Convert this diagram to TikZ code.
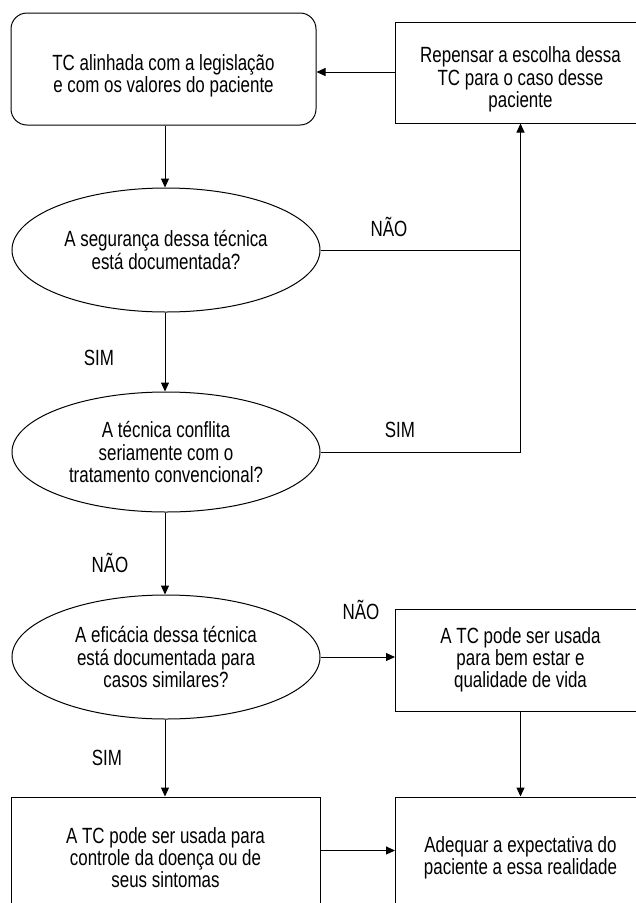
\documentclass[tikz,border=0pt]{standalone}
\usepackage{fontspec}
\setmainfont{Liberation Sans}[FakeStretch=0.77]
\usetikzlibrary{shapes.geometric,arrows.meta}
\newcommand\topstrut{\rule{0pt}{30pt}}
\tikzset{
  txt/.style={font=\fontsize{22}{22.3}\selectfont},
  box/.style={draw, line width=1pt, rectangle, inner sep=0pt, align=center, txt},
  rbox/.style={box, rounded corners=16pt},
  ell/.style={draw, line width=1pt, ellipse, inner sep=0pt, align=center, txt, minimum width=308pt},
  lbl/.style={txt, inner sep=0pt},
  arr/.style={line width=1pt, -{Triangle[length=9pt,width=8pt]}},
  ln/.style={line width=1pt}
}
\begin{document}
\begin{tikzpicture}[x=1pt,y=-1pt]
\useasboundingbox (0,0) rectangle (636,903);
\clip (0,0) rectangle (636,903);
\fill[white] (0,0) rectangle (636,903);
% nodes
\node[rbox, minimum width=305pt, minimum height=112pt] (n1) at (163.5,69) {\topstrut TC alinhada com a legislação\\e com os valores do paciente};
\node[box, minimum width=250pt, minimum height=101pt] (n2) at (520.5,72.5) {\topstrut Repensar a escolha dessa\\TC para o caso desse\\paciente};
\node[ell, minimum height=124pt] (e1) at (166,250) {A segurança dessa técnica\\está documentada?};
\node[ell, minimum height=120pt] (e2) at (166,452) {A técnica conflita\\seriamente com o\\tratamento convencional?};
\node[ell, minimum height=124pt] (e3) at (166,657) {A eficácia dessa técnica\\está documentada para\\casos similares?};
\node[box, minimum width=250pt, minimum height=102pt] (n3) at (520.5,660) {A TC pode ser usada\\para bem estar e\\qualidade de vida};
\node[box, minimum width=309pt, minimum height=107pt] (n4) at (165.5,850.5) {\topstrut A TC pode ser usada para\\controle da doença ou de\\seus sintomas};
\node[box, minimum width=250pt, minimum height=107pt] (n5) at (520.5,850.5) {\topstrut Adequar a expectativa do\\paciente a essa realidade};
% labels
\node[lbl] (l1) at (389,227) {NÃO};
\node[lbl] (l2) at (99,358) {SIM};
\node[lbl] (l3) at (400,430) {SIM};
\node[lbl] (l4) at (110,563) {NÃO};
\node[lbl] (l5) at (361,610) {NÃO};
\node[lbl] (l6) at (107,758) {SIM};
% connectors
\draw[arr] (n2.west |- 0,72) -- (n1.east |- 0,72);
\draw[arr] (n1.south -| 165,0) -- (e1.north -| 165,0);
\draw[arr] (e1.east) -- (e1.east -| n2.south) -- (n2.south);
\draw[ln] (e2.east) -- (e2.east -| n2.south) -- (e1.east -| n2.south);
\draw[arr] (e1.south -| 165,0) -- (e2.north -| 165,0);
\draw[arr] (e2.south -| 165,0) -- (e3.north -| 165,0);
\draw[arr] (e3.east) -- (n3.west |- e3.east);
\draw[arr] (e3.south -| 165,0) -- (n4.north -| 165,0);
\draw[arr] (n3.south) -- (n5.north);
\draw[arr] (n4.east) -- (n5.west |- n4.east);
\end{tikzpicture}
\end{document}
